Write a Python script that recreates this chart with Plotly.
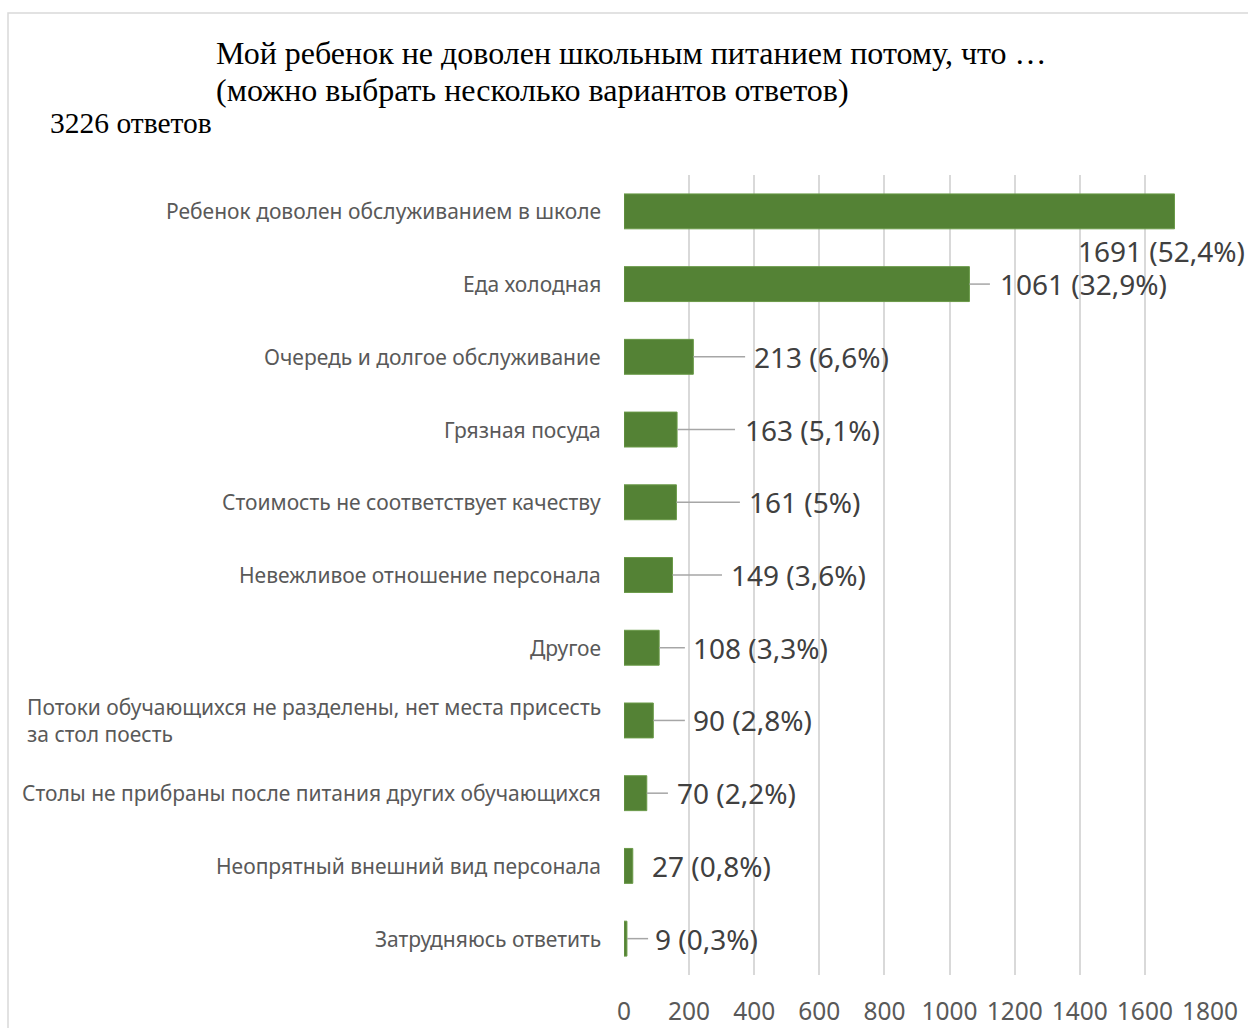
import plotly.graph_objects as go

categories = [
    "Ребенок доволен обслуживанием в школе",
    "Еда холодная",
    "Очередь и долгое обслуживание",
    "Грязная посуда",
    "Стоимость не соответствует качеству",
    "Невежливое отношение персонала",
    "Другое",
    "Потоки обучающихся не разделены, нет места присесть<br>за стол поесть",
    "Столы не прибраны после питания других обучающихся",
    "Неопрятный внешний вид персонала",
    "Затрудняюсь ответить",
]
values = [1691, 1061, 213, 163, 161, 149, 108, 90, 70, 27, 9]
percents = ["52,4%", "32,9%", "6,6%", "5,1%", "5%", "3,6%", "3,3%", "2,8%", "2,2%", "0,8%", "0,3%"]
tick_vals = [0, 200, 400, 600, 800, 1000, 1200, 1400, 1600, 1800]

title_line1 = "Мой ребенок не доволен школьным питанием потому, что …"
title_line2 = "(можно выбрать несколько вариантов ответов)"
subtitle = "3226 ответов"

# layout: label text start (data units) and leader-line end (data units)
label_x = [1652, 1149, 393, 366, 378, 323, 206, 206, 157, 80, 89]
line_end = [None, 1124, 372, 341, 356, 301, 187, 187, 135, None, 74]

GREEN = "#548235"
W, H = 1248, 1028
L, R, T, B = 624, 38, 175, 53
pw, ph = W - L - R, H - T - B

def px_to_paper_x(px):
    return (px - L) / pw

def px_to_paper_y(py):
    return (H - B - py) / ph

ids = list(range(len(categories)))

fig = go.Figure()
fig.add_trace(go.Bar(
    x=values, y=ids, orientation="h",
    marker=dict(color=GREEN, line=dict(color="#6a9a48", width=1)),
    width=0.48, hoverinfo="x",
))

annotations = []
shapes = []
for i, (cat, v, p) in enumerate(zip(categories, values, percents)):
    annotations.append(dict(
        x=0, xref="paper", y=i, yref="y", xanchor="right", yanchor="middle",
        xshift=-21, text=cat, showarrow=False, align="left",
        font=dict(family="Noto Sans", size=21, color="#595959"),
    ))
    txt = f"{v} ({p})"
    if i == 0:
        annotations.append(dict(
            x=label_x[i], y=i, xref="x", yref="y", xanchor="center", yanchor="middle",
            yshift=-40, text=txt, showarrow=False,
            font=dict(family="Noto Sans", size=28, color="#404040"),
        ))
    else:
        annotations.append(dict(
            x=label_x[i], y=i, xref="x", yref="y", xanchor="left", yanchor="middle",
            text=txt, showarrow=False,
            font=dict(family="Noto Sans", size=28, color="#404040"),
        ))
    if line_end[i] is not None:
        shapes.append(dict(type="line", xref="x", yref="y", x0=v, x1=line_end[i],
                           y0=i, y1=i, line=dict(color="#A6A6A6", width=1.5)))

# title and subtitle
for txt, py in [(title_line1, 53), (title_line2, 90)]:
    annotations.append(dict(
        x=px_to_paper_x(214), y=px_to_paper_y(py), xref="paper", yref="paper",
        xanchor="left", yanchor="middle", align="left", showarrow=False,
        text=txt, font=dict(family="Liberation Serif", size=32, color="#000000"),
    ))
annotations.append(dict(
    x=px_to_paper_x(48), y=px_to_paper_y(123), xref="paper", yref="paper",
    xanchor="left", yanchor="middle", showarrow=False,
    text=subtitle, font=dict(family="Liberation Serif", size=29.5, color="#000000"),
))

# outer chart border (left and top visible)
shapes.append(dict(type="rect", xref="paper", yref="paper",
                   x0=px_to_paper_x(8), x1=px_to_paper_x(1262),
                   y0=px_to_paper_y(1045), y1=px_to_paper_y(13),
                   line=dict(color="#D9D9D9", width=1.5), layer="below"))

fig.update_layout(
    width=W, height=H,
    margin=dict(l=L, r=R, t=T, b=B, autoexpand=False),
    paper_bgcolor="white", plot_bgcolor="white",
    showlegend=False,
    annotations=annotations, shapes=shapes,
    xaxis=dict(range=[0, 1800], tickvals=tick_vals, showgrid=True,
               gridcolor="#D9D9D9", gridwidth=1.5, zeroline=False,
               showline=False, ticks="", ticklabelstandoff=19, automargin=False,
               tickfont=dict(family="Noto Sans", size=24.5, color="#595959")),
    yaxis=dict(range=[len(categories) - 0.5, -0.5], showticklabels=False,
               showgrid=False, zeroline=False, showline=False, ticks="",
               automargin=False),
)

fig.write_html("out.html", config={"displayModeBar": False},
               post_script="document.body.style.margin='0';document.body.style.overflow='hidden';")
